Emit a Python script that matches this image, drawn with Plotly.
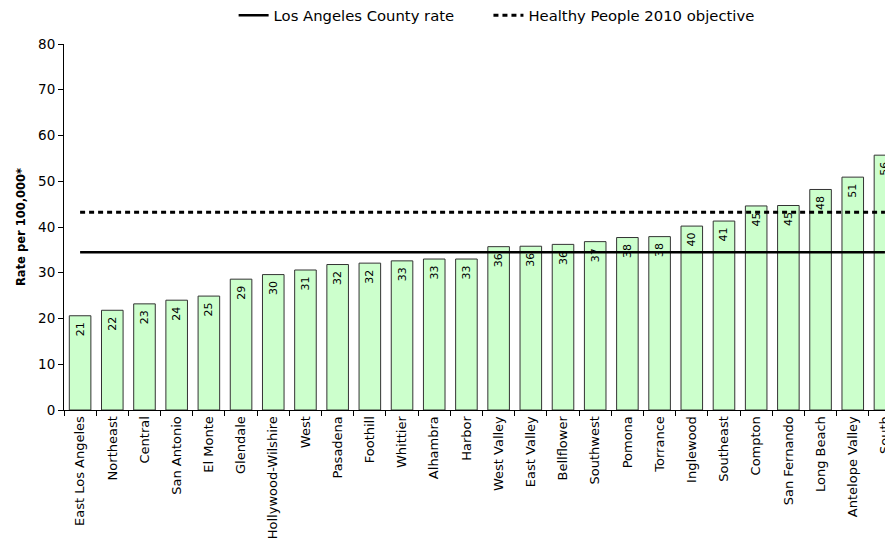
import plotly.graph_objects as go

areas = ["East Los Angeles", "Northeast", "Central", "San Antonio", "El Monte", "Glendale",
         "Hollywood-Wilshire", "West", "Pasadena", "Foothill", "Whittier", "Alhambra", "Harbor",
         "West Valley", "East Valley", "Bellflower", "Southwest", "Pomona", "Torrance",
         "Inglewood", "Southeast", "Compton", "San Fernando", "Long Beach", "Antelope Valley", "South"]
rates = [20.6, 21.8, 23.2, 24.0, 24.9, 28.6, 29.6, 30.6, 31.8, 32.1, 32.6, 33.0, 33.0,
         35.7, 35.8, 36.2, 36.8, 37.7, 37.9, 40.2, 41.3, 44.6, 44.7, 48.2, 50.9, 55.7]
la_county_rate = 34.5
hp2010_objective = 43.2
y_ticks = [0, 10, 20, 30, 40, 50, 60, 70, 80]

FONT = "DejaVu Sans, Verdana, sans-serif"

fig = go.Figure()
fig.add_trace(go.Bar(
    x=areas, y=rates,
    text=[f"{round(v)}\u00a0" for v in rates],
    textposition="inside", insidetextanchor="end", textangle=-90,
    constraintext="none",
    textfont=dict(family=FONT, size=11, color="black"),
    marker=dict(color="#CCFFCC", line=dict(color="#333333", width=1)),
    showlegend=False, hoverinfo="x+y", cliponaxis=False,
))
fig.add_trace(go.Scatter(
    x=[areas[0], areas[-1]], y=[la_county_rate, la_county_rate],
    mode="lines", name="Los Angeles County rate", legend="legend",
    line=dict(color="black", width=2.5),
))
fig.add_trace(go.Scatter(
    x=[areas[0], areas[-1]], y=[hp2010_objective, hp2010_objective],
    mode="lines", name="Healthy People 2010 objective", legend="legend2",
    line=dict(color="black", width=3, dash="5px,4px"),
))

leg_common = dict(orientation="h", xanchor="left", y=0.986, yanchor="middle",
                  yref="container", font=dict(size=14.8), itemwidth=30,
                  bgcolor="rgba(0,0,0,0)")

fig.update_layout(
    width=885, height=545,
    margin=dict(l=56, r=0, t=36, b=143, autoexpand=False),
    plot_bgcolor="white", paper_bgcolor="white",
    font=dict(family=FONT, size=13, color="black"),
    bargap=0.33,
    legend=dict(x=0.2046, **leg_common),
    legend2=dict(x=0.512, **leg_common),
    xaxis=dict(range=[-0.5, 25.25], tickangle=-90, showline=True, linecolor="black",
               ticks="outside", tickson="boundaries", ticklen=5, tickcolor="black",
               tickfont=dict(size=13), showgrid=False, automargin=False),
    yaxis=dict(range=[0, 80], tickvals=y_ticks, showline=True, linecolor="black",
               ticks="outside", ticklen=5, tickcolor="black", showgrid=False,
               zeroline=False, tickfont=dict(size=13.5), automargin=False,
               title=dict(text="<b>Rate per 100,000*</b>", font=dict(size=11.5), standoff=10)),
)
fig.write_html("out.html")
